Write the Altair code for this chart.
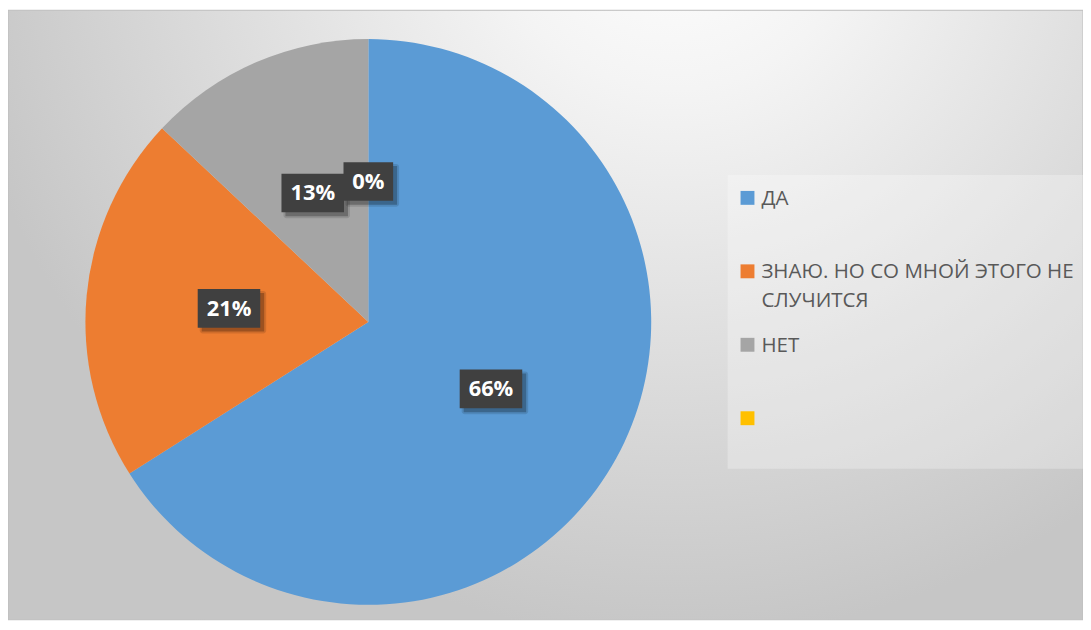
import altair as alt
import pandas as pd

# ---- data ----
categories = ["ДА", "ЗНАЮ. НО СО МНОЙ ЭТОГО НЕ СЛУЧИТСЯ", "НЕТ", ""]
legend_labels = ["ДА", "ЗНАЮ. НО СО МНОЙ ЭТОГО НЕ|СЛУЧИТСЯ", "НЕТ", ""]
values = [66, 21, 13, 0]
pct_labels = ["66%", "21%", "13%", "0%"]
colors = ["#5B9BD5", "#ED7D31", "#A5A5A5", "#FFC000"]

W, H = 1083, 614
CX, CY, R = 363, 314, 285
LR = 141

df = pd.DataFrame({
    "idx": list(range(len(categories))),
    "cat": categories,
    "legend": legend_labels,
    "value": values,
    "pct": pct_labels,
})

color_scale = alt.Scale(domain=categories, range=colors)

bg = alt.Chart(pd.DataFrame({"a": [0]})).mark_rect(
    fill=alt.RadialGradient(
        gradient="radial",
        stops=[
            alt.GradientStop(color="#ffffff", offset=0),
            alt.GradientStop(color="#f4f4f4", offset=0.25),
            alt.GradientStop(color="#c6c6c6", offset=1),
        ],
        x1=0.62, y1=0.12, x2=0.62, y2=0.12, r1=0, r2=0.68,
    ),
    stroke="#bdbdbd", strokeWidth=1,
).encode(x=alt.value(0), x2=alt.value(W), y=alt.value(0), y2=alt.value(H))

pie = alt.Chart(df).mark_arc(outerRadius=R, stroke=None).encode(
    theta=alt.Theta("value:Q", stack=True),
    order=alt.Order("idx:Q"),
    color=alt.Color("cat:N", scale=color_scale, legend=None),
    x=alt.value(CX), y=alt.value(CY),
)

lab = alt.Chart(df).transform_window(
    cum="sum(value)", sort=[alt.SortField("idx")], frame=[None, 0]
).transform_joinaggregate(total="sum(value)").transform_calculate(
    ang="(datum.cum - datum.value/2)/datum.total*2*PI",
).transform_calculate(
    lx=f"{CX} + {LR}*sin(datum.ang)",
    ly=f"{CY} - {LR}*cos(datum.ang)",
    w="13*length(datum.pct) + 24",
).transform_calculate(
    bx1="datum.lx - datum.w/2", bx2="datum.lx + datum.w/2",
    by1="datum.ly - 20", by2="datum.ly + 19",
    sx1="datum.lx - datum.w/2 + 4", sx2="datum.lx + datum.w/2 + 4",
    sy1="datum.ly - 16", sy2="datum.ly + 23",
    tx1="datum.lx - datum.w/2 + 2", tx2="datum.lx + datum.w/2 + 6",
    ty1="datum.ly - 18", ty2="datum.ly + 25",
)

shadow1 = lab.mark_rect(color="#000000", opacity=0.12, cornerRadius=3).encode(
    x=alt.X("tx1:Q", scale=None), x2="tx2:Q",
    y=alt.Y("ty1:Q", scale=None), y2="ty2:Q",
)
shadow2 = lab.mark_rect(color="#000000", opacity=0.25).encode(
    x=alt.X("sx1:Q", scale=None), x2="sx2:Q",
    y=alt.Y("sy1:Q", scale=None), y2="sy2:Q",
)
boxes = lab.mark_rect(color="#404040").encode(
    x=alt.X("bx1:Q", scale=None), x2="bx2:Q",
    y=alt.Y("by1:Q", scale=None), y2="by2:Q",
)
texts = lab.mark_text(
    font="Open Sans", fontSize=22, fontWeight="bold", color="#ffffff",
    baseline="middle", align="center",
).encode(
    x=alt.X("lx:Q", scale=None), y=alt.Y("ly:Q", scale=None), text="pct:N",
)

legend_panel = alt.Chart(pd.DataFrame({"a": [0]})).mark_rect(
    color="#ffffff", opacity=0.28
).encode(x=alt.value(725), x2=alt.value(1084), y=alt.value(166), y2=alt.value(462))

leg_base = alt.Chart(df).transform_calculate(ly="189 + 74*datum.idx", ty="180 + 74*datum.idx")
leg_sq = leg_base.mark_square(size=196, opacity=1).encode(
    x=alt.value(745), y=alt.Y("ly:Q", scale=None),
    color=alt.Color("cat:N", scale=color_scale, legend=None),
)
leg_txt = leg_base.mark_text(
    font="Open Sans", fontSize=20.7, color="#595959", align="left",
    baseline="top", lineBreak="|", lineHeight=29,
).encode(x=alt.value(759), y=alt.Y("ty:Q", scale=None), text="legend:N")

chart = alt.layer(
    bg, pie, legend_panel, shadow1, shadow2, boxes, texts, leg_sq, leg_txt
).properties(
    width=W, height=H, padding=0, autosize=alt.AutoSizeParams(type="none"),
).configure_view(stroke=None)

chart.save("out.html", embed_options={"renderer": "svg", "actions": False})
